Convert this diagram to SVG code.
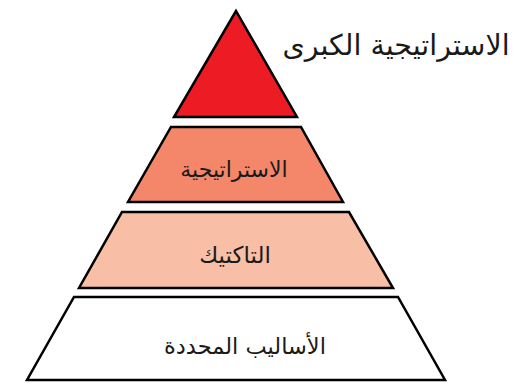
<svg xmlns="http://www.w3.org/2000/svg" width="515" height="384" viewBox="0 0 515 384">
<style>
.l{stroke:#000;stroke-width:2.5;stroke-linejoin:miter}
.t{font-family:"DejaVu Sans","Noto Sans",sans-serif;fill:#1a1a1a;text-anchor:middle;direction:rtl}
</style>
<rect width="515" height="384" fill="#fff"/>
<g id="top">
<polygon class="l" points="236,11 174,117 297,117" fill="#ED1C24"/>
</g>
<g id="strategy">
<polygon class="l" points="171,127 301,127 343,202 128,202" fill="#F4876A"/>
<text class="t" x="234" y="177" font-size="22">الاستراتيجية</text>
</g>
<g id="tactics">
<polygon class="l" points="122,212 349,212 393,288 79,288" fill="#F8BEA6"/>
<text class="t" x="235" y="263" font-size="23">التاكتيك</text>
</g>
<g id="methods">
<polygon class="l" points="74,297 398,297 445,380 27,380" fill="#fff"/>
<text class="t" x="245" y="354" font-size="22.5">الأساليب المحددة</text>
</g>
<g id="label">
<text class="t" x="396" y="55" font-size="28.5" fill="#000">الاستراتيجية الكبرى</text>
</g>
</svg>
